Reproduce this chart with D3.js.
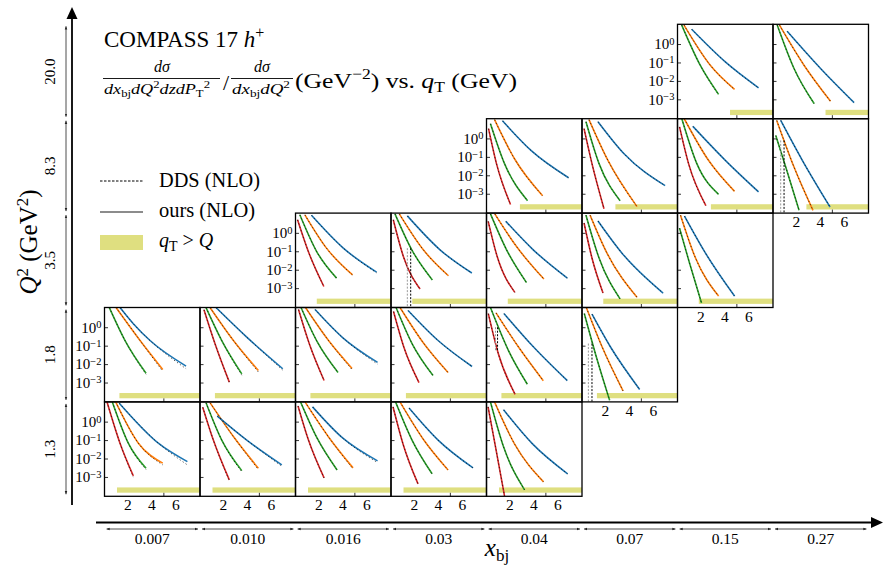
<!DOCTYPE html>
<html>
<head>
<meta charset="utf-8">
<script src="https://cdn.jsdelivr.net/npm/d3@7"></script>
<style>
  body { margin: 0; background: #fff; }
  svg text { font-family: "Liberation Serif", serif; fill: #000; }
</style>
</head>
<body>
<div id="chart"></div>
<script>
// bins and ticks
const xbjBins = ["0.007", "0.010", "0.016", "0.03", "0.04", "0.07", "0.15", "0.27"]
const q2Bins = ["20.0", "8.3", "3.5", "1.8", "1.3"]
const qtTicks = [2, 4, 6]
const qtTickMarks = [5]
const yTicks = [1, 1e-1, 1e-2, 1e-3]
const yExps = ["0", "\u22121", "\u22122", "\u22123"]
const bandRange = [1.4e-4, 2.7e-4]
const zColors = { red: "#d62728", green: "#2ca02c", orange: "#ff7f0e", blue: "#1f77b4" }

// curves per panel: [z, [[qT, ours, dds?], ...]]
const c015_20 = [
  ["green", [[0.45, 10.7], [1.99, 7.1e-2], [3.52, 1.86e-3, 1.8e-3]]],
  ["orange", [[0.64, 10.7], [2.83, 7.1e-2], [4.85, 3.5e-3, 3.4e-3]]],
  ["blue", [[1.28, 6.3], [4.08, 0.107], [6.85, 4.2e-3, 4.1e-3]]]
]
const c027_20 = [
  ["green", [[0.45, 10.7], [1.85, 4.7e-2], [3.52, 5.9e-4]]],
  ["orange", [[0.64, 10.5], [2.68, 7.1e-2], [4.89, 7.8e-4]]],
  ["blue", [[1.28, 4.9], [4.06, 4.7e-2], [6.85, 6.6e-4]]]
]
const c004_83 = [
  ["red", [[0.27, 3.4], [0.93, 4.3e-2], [2.1, 2.6e-4]]],
  ["green", [[0.43, 6.3], [1.6, 4.3e-2], [3.52, 4.2e-4]]],
  ["orange", [[0.77, 10.5], [2.43, 7.9e-2], [4.77, 7.8e-4]]],
  ["blue", [[1.43, 9.1], [3.85, 0.21], [6.93, 7.4e-3]]]
]
const c007_83 = [
  ["red", [[0.27, 3.4], [0.93, 4.3e-2], [1.93, 1.55e-4]]],
  ["green", [[0.43, 8.1], [1.52, 4.3e-2], [3.27, 4.2e-4]]],
  ["orange", [[0.68, 10.5], [2.27, 6.2e-2], [4.68, 2.0e-4]]],
  ["blue", [[1.43, 8.1], [3.6, 0.148], [7.02, 2.75e-3]]]
]
const c015_83 = [
  ["red", [[0.27, 4.2], [1.02, 4.3e-2], [2.46, 2.3e-4]]],
  ["green", [[0.46, 11.7], [1.71, 4.3e-2], [3.52, 9.3e-4]]],
  ["orange", [[0.66, 11.7], [2.68, 6.5e-2], [4.85, 1.35e-3]]],
  ["blue", [[1.38, 4.5], [4.08, 6.5e-2], [6.85, 1.26e-3]]]
]
const c027_83 = [
  ["green", [[0.33, 1.45], [1.16, 2.8e-2], [2.27, 1.26e-4]]],
  ["orange", [[0.41, 9.5], [1.85, 2.8e-2], [3.43, 1.26e-4]]],
  ["blue", [[0.74, 9.5], [2.54, 6.5e-2], [4.85, 1.9e-4]]]
]
const c0016_35 = [
  ["red", [[0.27, 5.1], [1.16, 0.10], [2.46, 1.23e-3]]],
  ["green", [[0.46, 9.5], [1.85, 0.10], [3.52, 3.5e-3]]],
  ["orange", [[0.88, 9.5], [2.68, 0.148], [4.85, 5.2e-3]]],
  ["blue", [[1.43, 8.9], [4.08, 0.148], [6.85, 7.4e-3, 6.8e-3]]]
]
const c003_35 = [
  ["red", [[0.29, 5.1], [1.13, 5.2e-2], [2.52, 8.9e-4]]],
  ["green", [[0.43, 10.7], [1.83, 0.12], [3.54, 2.8e-3]]],
  ["orange", [[0.79, 10.7], [2.79, 0.12], [4.88, 4.7e-3]]],
  ["blue", [[1.46, 8.3], [4.18, 0.12], [6.83, 6.6e-3]]]
]
const c004_35 = [
  ["red", [[0.24, 4.2], [0.99, 5.2e-2], [2.46, 5.9e-4]]],
  ["green", [[0.43, 10.7], [1.77, 0.12], [3.43, 2.0e-3]]],
  ["orange", [[0.79, 10.7], [2.6, 0.18], [4.88, 3.1e-3]]],
  ["blue", [[1.71, 4.2], [3.99, 0.12], [6.83, 3.5e-3]]]
]
const c007_35 = [
  ["red", [[0.27, 3.4], [0.93, 4.3e-2], [1.85, 5.4e-4]]],
  ["green", [[0.43, 9.1], [1.52, 4.3e-2], [3.27, 2.6e-4]]],
  ["orange", [[0.77, 9.1], [2.18, 7.9e-2], [4.68, 3.2e-4]]],
  ["blue", [[1.43, 4.4], [3.43, 7.9e-2], [6.85, 5.4e-4]]]
]
const c015_35 = [
  ["green", [[0.27, 1.8], [1.1, 2.3e-2], [2.1, 1.55e-4]]],
  ["orange", [[0.35, 9.1], [1.6, 4.3e-2], [3.52, 3.7e-4]]],
  ["blue", [[0.68, 8.1], [2.43, 7.9e-2], [4.85, 3.7e-4]]]
]
const c0007_18 = [
  ["green", [[0.5, 11.7], [1.81, 0.19], [3.56, 3.2e-3, 2.8e-3]]],
  ["orange", [[1.06, 11.7], [3.06, 0.19], [4.95, 5.1e-3, 4.0e-3]]],
  ["blue", [[1.39, 11.7], [2.5, 1.55], [3.89, 0.19], [6.89, 7.8e-3, 5.6e-3]]]
]
const c0010_18 = [
  ["red", [[0.43, 8.9], [1.35, 0.126], [2.54, 1.05e-3]]],
  ["green", [[0.6, 11.7], [1.91, 0.19], [3.58, 2.95e-3, 2.5e-3]]],
  ["orange", [[0.93, 11.7], [2.88, 0.19], [4.96, 4.5e-3, 3.7e-3]]],
  ["blue", [[1.43, 11.7], [3.99, 0.29], [6.99, 5.6e-3, 4.7e-3]]]
]
const c0016_18 = [
  ["red", [[0.35, 9.1], [1.27, 0.115], [2.48, 1.29e-3]]],
  ["green", [[0.56, 11.7], [1.89, 0.17], [3.64, 3.5e-3]]],
  ["orange", [[0.93, 11.7], [2.85, 0.19], [4.81, 5.8e-3, 5.0e-3]]],
  ["blue", [[1.73, 9.1], [4.02, 0.275], [6.93, 1.23e-2, 1.0e-2]]]
]
const c003_18 = [
  ["red", [[0.31, 7.1], [1.18, 7.9e-2], [2.43, 1.0e-3]]],
  ["green", [[0.52, 11.7], [1.85, 0.13], [3.6, 2.4e-3]]],
  ["orange", [[0.85, 11.7], [2.77, 0.148], [4.85, 3.5e-3]]],
  ["blue", [[1.52, 8.1], [4.02, 0.19], [6.85, 7.4e-3]]]
]
const c004_18 = [
  ["red", [[0.25, 5.5], [1.08, 3.8e-2], [2.48, 2.3e-4]]],
  ["green", [[0.43, 11.7], [1.92, 5.6e-2], [3.5, 8.1e-4]]],
  ["orange", [[0.89, 6.0], [2.75, 8.7e-2], [4.83, 1.26e-3]]],
  ["blue", [[1.56, 5.5], [4.0, 8.7e-2], [6.83, 1.26e-3]]]
]
const c007_18 = [
  ["green", [[0.29, 5.5], [1.21, 3.8e-2], [2.4, 1.1e-4]]],
  ["orange", [[0.46, 11.7], [1.77, 8.7e-2], [3.52, 3.5e-4]]],
  ["blue", [[0.93, 5.1], [2.46, 8.7e-2], [4.9, 4.2e-4]]]
]
const c0007_13 = [
  ["red", [[0.31, 11.7], [1.39, 6.8e-2], [2.5, 1.15e-3, 9.8e-4]]],
  ["green", [[0.75, 11.7], [2.08, 6.8e-2], [3.56, 2.95e-3, 2.5e-3]]],
  ["orange", [[1.03, 11.7], [2.92, 6.8e-2], [4.95, 5.6e-3, 4.5e-3]]],
  ["blue", [[1.33, 10], [4.58, 6.8e-2], [7.0, 6.8e-3, 4.5e-3]]]
]
const c0010_13 = [
  ["red", [[0.33, 6.0], [1.21, 0.10], [2.54, 6.9e-4, 6.3e-4]]],
  ["green", [[0.6, 10.7], [1.91, 0.10], [3.58, 2.2e-3, 1.9e-3]]],
  ["orange", [[0.93, 10.7], [2.88, 0.155], [4.96, 2.95e-3, 2.5e-3]]],
  ["blue", [[1.54, 2.0], [3.99, 0.10], [6.91, 4.5e-3, 3.8e-3]]]
]
const c0016_13 = [
  ["red", [[0.31, 7.1], [1.18, 0.10], [2.48, 8.9e-4]]],
  ["green", [[0.52, 11.7], [1.89, 0.13], [3.56, 2.4e-3]]],
  ["orange", [[0.89, 11.7], [2.85, 0.148], [4.89, 3.1e-3, 2.7e-3]]],
  ["blue", [[1.52, 6.3], [4.02, 0.13], [6.93, 7.4e-3, 6.0e-3]]]
]
const c003_13 = [
  ["red", [[0.27, 6.3], [1.1, 6.2e-2], [2.35, 4.2e-4]]],
  ["green", [[0.48, 11.7], [1.85, 0.10], [3.52, 1.48e-3]]],
  ["orange", [[0.85, 11.7], [2.77, 0.115], [4.85, 2.4e-3]]],
  ["blue", [[1.6, 5.5], [4.02, 0.10], [6.93, 3.1e-3]]]
]
const c004_13 = [
  ["red", [[0.23, 6.3], [0.85, 4.3e-2], [1.6, 9.3e-5]]],
  ["green", [[0.43, 11.7], [1.52, 4.3e-2], [3.27, 2.0e-4]]],
  ["orange", [[0.77, 11.7], [2.43, 6.2e-2], [4.85, 5.4e-4]]],
  ["blue", [[1.52, 4.4], [3.93, 6.2e-2], [6.85, 1.48e-3]]]
]

// DDS glitches: [xbj, Q2, qT1, qT2, top, bottom]
const ddsGlitches = [
  ["0.03", "3.5", 1.46, 1.74, 0.148, 5e-5],
  ["0.27", "8.3", 0.74, 1.02, 0.78, 5e-5],
  ["0.07", "1.8", 0.63, 0.93, 0.13, 5e-5],
  ["0.04", "1.8", 0.85, 1.02, 1.0, 5.5e-2]
]

const panels = [
  ["0.15", "20.0", c015_20], ["0.27", "20.0", c027_20],
  ["0.04", "8.3", c004_83], ["0.07", "8.3", c007_83], ["0.15", "8.3", c015_83], ["0.27", "8.3", c027_83],
  ["0.016", "3.5", c0016_35], ["0.03", "3.5", c003_35], ["0.04", "3.5", c004_35], ["0.07", "3.5", c007_35], ["0.15", "3.5", c015_35],
  ["0.007", "1.8", c0007_18], ["0.010", "1.8", c0010_18], ["0.016", "1.8", c0016_18], ["0.03", "1.8", c003_18], ["0.04", "1.8", c004_18], ["0.07", "1.8", c007_18],
  ["0.007", "1.3", c0007_13], ["0.010", "1.3", c0010_13], ["0.016", "1.3", c0016_13], ["0.03", "1.3", c003_13], ["0.04", "1.3", c004_13]
]

const BAND = "#dfdf80"

const svg = d3.select("#chart").append("svg")
  .attr("width", 883)
  .attr("height", 566)

const col = d3.scaleBand().domain(xbjBins).range([104.5, 868.5])
const row = d3.scaleBand().domain(q2Bins).range([24.3, 496.3])
const PW = col.bandwidth()
const PH = row.bandwidth()

const x = d3.scaleLinear().domain([0.1, 8.05]).range([0, PW])
const y = d3.scaleLog().domain([Math.pow(10, -4.05), Math.pow(10, 1.07)]).range([PH, 0])

const lineOurs = d3.line().x(d => x(d[0])).y(d => y(d[1])).curve(d3.curveMonotoneX)
const lineDds = d3.line().x(d => x(d[0])).y(d => y(d[2] ?? d[1])).curve(d3.curveMonotoneX)

const has = new Set(panels.map(p => p[0] + "|" + p[1]))

panels.forEach(([xb, q2, curves], i) => {
  const g = svg.append("g")
    .attr("transform", `translate(${col(xb)}, ${row(q2)})`)

  g.append("clipPath").attr("id", "clip" + i)
    .append("rect").attr("width", PW).attr("height", PH)

  const inner = g.append("g").attr("clip-path", `url(#clip${i})`)

  // q_T > Q band
  const Q = Math.sqrt(+q2)
  inner.append("rect")
    .attr("x", x(Q))
    .attr("width", x(8.05) - x(Q))
    .attr("y", y(bandRange[1]))
    .attr("height", y(bandRange[0]) - y(bandRange[1]))
    .attr("fill", BAND)

  // ours
  inner.selectAll(".ours")
    .data(curves)
    .enter().append("path")
      .attr("class", "ours")
      .attr("fill", "none")
      .attr("stroke", d => zColors[d[0]])
      .attr("stroke-width", 1.6)
      .attr("d", d => lineOurs(d[1]))

  // DDS
  inner.selectAll(".dds")
    .data(curves)
    .enter().append("path")
      .attr("class", "dds")
      .attr("fill", "none")
      .attr("stroke", "#000")
      .attr("stroke-width", 0.65)
      .attr("stroke-dasharray", "1.3,2.3")
      .attr("d", d => lineDds(d[1]))

  ddsGlitches.filter(d => d[0] === xb && d[1] === q2).forEach(d => {
    inner.append("line")
      .attr("x1", x(d[2])).attr("x2", x(d[2]))
      .attr("y1", y(d[4])).attr("y2", y(d[5]))
      .attr("stroke", "#999").attr("stroke-width", 1).attr("stroke-dasharray", "2,1.5")
    inner.append("line")
      .attr("x1", x(d[3])).attr("x2", x(d[3]))
      .attr("y1", y(d[4])).attr("y2", y(d[5]))
      .attr("stroke", "#000").attr("stroke-width", 1).attr("stroke-dasharray", "2,1.5")
  })

  // inward ticks
  g.append("g")
    .call(d3.axisLeft(y).tickValues(yTicks).tickSize(-3.5).tickFormat(""))
    .call(a => a.select(".domain").remove())
    .selectAll("line").attr("stroke-width", 0.8)
  g.append("g")
    .attr("transform", `translate(0, ${PH})`)
    .call(d3.axisBottom(x).tickValues(qtTickMarks).tickSize(-3.5).tickFormat(""))
    .call(a => a.select(".domain").remove())
    .selectAll("line").attr("stroke-width", 0.8)

  // frame
  g.append("rect")
    .attr("width", PW).attr("height", PH)
    .attr("fill", "none")
    .attr("stroke", "#000")
    .attr("stroke-width", 1.3)

  const ci = xbjBins.indexOf(xb), ri = q2Bins.indexOf(q2)
  const leftmost = ci === 0 || !has.has(xbjBins[ci - 1] + "|" + q2)
  const bottom = ri === q2Bins.length - 1 || !has.has(xb + "|" + q2Bins[ri + 1])

  if (leftmost) {
    const ax = g.append("g")
      .call(d3.axisLeft(y).tickValues(yTicks).tickSize(0).tickPadding(3))
    ax.select(".domain").remove()
    ax.selectAll("text")
      .attr("font-size", 15)
      .attr("font-family", "Liberation Serif")
      .text(null)
      .each(function (d, k) {
        const t = d3.select(this)
        t.append("tspan").text("10")
        t.append("tspan").attr("dy", "-0.42em").attr("font-size", 10.5).text(yExps[k])
      })
  }
  if (bottom) {
    const ax = g.append("g")
      .attr("transform", `translate(0, ${PH})`)
      .call(d3.axisBottom(x).tickValues(qtTicks).tickSize(0).tickPadding(3))
    ax.select(".domain").remove()
    ax.selectAll("text")
      .attr("font-size", 15.5)
      .attr("font-family", "Liberation Serif")
  }
})

// arrow markers
const defs = svg.append("defs")
defs.append("marker").attr("id", "ah").attr("viewBox", "0 0 10 10")
  .attr("refX", 10).attr("refY", 5).attr("markerWidth", 4).attr("markerHeight", 4)
  .attr("orient", "auto-start-reverse")
  .append("path").attr("d", "M0,1 L10,5 L0,9 z").attr("fill", "#222")

// main axes
svg.append("line").attr("x1", 72).attr("x2", 72).attr("y1", 505).attr("y2", 18)
  .attr("stroke", "#000").attr("stroke-width", 1.8)
svg.append("path").attr("d", "M72,7 L77.5,19 L66.5,19 Z").attr("fill", "#000")
svg.append("line").attr("x1", 96).attr("x2", 872).attr("y1", 522.5).attr("y2", 522.5)
  .attr("stroke", "#000").attr("stroke-width", 1.8)
svg.append("path").attr("d", "M883,522.5 L871,517 L871,528 Z").attr("fill", "#000")

// bin double arrows + labels
xbjBins.forEach(b => {
  svg.append("line")
    .attr("x1", col(b) + 2).attr("x2", col(b) + PW - 2)
    .attr("y1", 529).attr("y2", 529)
    .attr("stroke", "#222").attr("stroke-width", 0.8)
    .attr("marker-start", "url(#ah)").attr("marker-end", "url(#ah)")
  svg.append("text")
    .attr("x", col(b) + PW / 2).attr("y", 544)
    .attr("text-anchor", "middle").attr("font-size", 15.5)
    .text(b)
})
q2Bins.forEach(b => {
  svg.append("line")
    .attr("x1", 66).attr("x2", 66)
    .attr("y1", row(b) + 2).attr("y2", row(b) + PH - 2)
    .attr("stroke", "#222").attr("stroke-width", 0.8)
    .attr("marker-start", "url(#ah)").attr("marker-end", "url(#ah)")
  svg.append("text")
    .attr("transform", `translate(55, ${row(b) + PH / 2}) rotate(-90)`)
    .attr("text-anchor", "middle").attr("font-size", 15)
    .text(b)
})

// axis titles
const q2Label = svg.append("text")
  .attr("transform", "translate(37, 242) rotate(-90)")
  .attr("text-anchor", "middle").attr("font-size", 25)
q2Label.append("tspan").attr("font-style", "italic").text("Q")
q2Label.append("tspan").attr("dy", -9).attr("font-size", 17).text("2")
q2Label.append("tspan").attr("dy", 9).text(" (GeV")
q2Label.append("tspan").attr("dy", -9).attr("font-size", 17).text("2")
q2Label.append("tspan").attr("dy", 9).text(")")

const xLabel = svg.append("text")
  .attr("x", 497).attr("y", 556)
  .attr("text-anchor", "middle").attr("font-size", 25)
xLabel.append("tspan").attr("font-style", "italic").text("x")
xLabel.append("tspan").attr("dy", 5).attr("font-size", 17).text("bj")

// title
const title = svg.append("text").attr("x", 104).attr("y", 47).attr("font-size", 23)
title.append("tspan").text("COMPASS 17 ")
title.append("tspan").attr("font-style", "italic").text("h")
title.append("tspan").attr("dy", -9).attr("font-size", 16).text("+")

// formula line
function frac(cx, x1, x2, denomParts, w) {
  svg.append("text").attr("x", cx).attr("y", 72).attr("text-anchor", "middle")
    .attr("font-size", 16).attr("font-style", "italic").text("d\u03c3")
  svg.append("line").attr("x1", x1).attr("x2", x2).attr("y1", 78.5).attr("y2", 78.5)
    .attr("stroke", "#000").attr("stroke-width", 0.9)
  const t = svg.append("text").attr("x", x1 + 1).attr("y", 94)
    .attr("font-size", 15)
    .attr("textLength", w).attr("lengthAdjust", "spacingAndGlyphs")
  denomParts.forEach(p => {
    const s = t.append("tspan").text(p[0])
    if (p[1] === "i") s.attr("font-style", "italic")
    if (p[1] === "sub") s.attr("font-size", 10.5).attr("dy", 3)
    if (p[1] === "sup") s.attr("font-size", 10.5).attr("dy", -6)
    if (p[2]) s.attr("dy", p[2])
  })
}
frac(162, 103, 220, [["dx", "i"], ["bj", "sub"], ["dQ", "i", -3], ["2", "sup"], ["dzdP", "i", 6], ["T", "sub"], ["2", "sup", -9]], 106)
frac(262, 231, 293, [["dx", "i"], ["bj", "sub"], ["dQ", "i", -3], ["2", "sup"]], 58)
svg.append("text").attr("x", 223).attr("y", 90).attr("font-size", 22).text("/")
const rest = svg.append("text").attr("x", 295).attr("y", 88).attr("font-size", 22)
  .attr("textLength", 222).attr("lengthAdjust", "spacingAndGlyphs")
rest.append("tspan").text("(GeV")
rest.append("tspan").attr("dy", -9).attr("font-size", 15).text("\u22122")
rest.append("tspan").attr("dy", 9).text(") vs. ")
rest.append("tspan").attr("font-style", "italic").text("q")
rest.append("tspan").attr("dy", 4).attr("font-size", 15).text("T")
rest.append("tspan").attr("dy", -4).text(" (GeV)")

// legend
svg.append("line").attr("x1", 100).attr("x2", 143).attr("y1", 181).attr("y2", 181)
  .attr("stroke", "#000").attr("stroke-width", 1).attr("stroke-dasharray", "2.5,1.5")
svg.append("line").attr("x1", 100).attr("x2", 143).attr("y1", 212).attr("y2", 212)
  .attr("stroke", "#666").attr("stroke-width", 1.6)
svg.append("rect").attr("x", 100).attr("y", 235).attr("width", 43).attr("height", 15)
  .attr("fill", BAND)
svg.append("text").attr("x", 159).attr("y", 187).attr("font-size", 20)
  .attr("textLength", 101).attr("lengthAdjust", "spacingAndGlyphs").text("DDS (NLO)")
svg.append("text").attr("x", 159).attr("y", 217).attr("font-size", 20)
  .attr("textLength", 96).attr("lengthAdjust", "spacingAndGlyphs").text("ours (NLO)")
const lq = svg.append("text").attr("x", 159).attr("y", 247).attr("font-size", 20)
lq.append("tspan").attr("font-style", "italic").text("q")
lq.append("tspan").attr("dy", 4).attr("font-size", 14).text("T")
lq.append("tspan").attr("dy", -4).text(" > ")
lq.append("tspan").attr("font-style", "italic").text("Q")
</script>
</body>
</html>
